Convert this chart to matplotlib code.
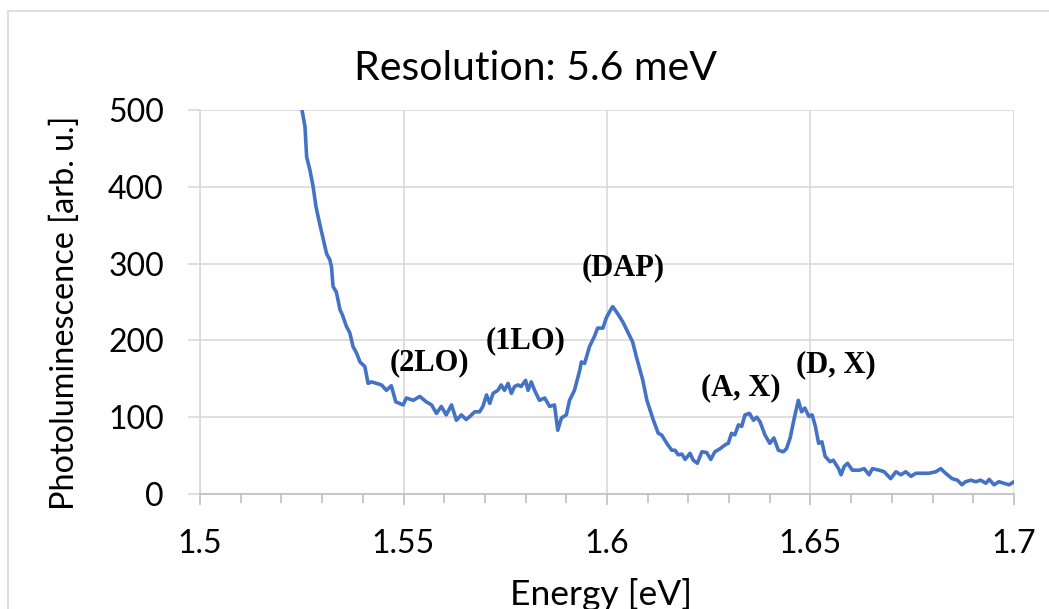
import matplotlib
matplotlib.use("Agg")
import matplotlib.pyplot as plt
from matplotlib.patches import Rectangle
from matplotlib.ticker import MultipleLocator, FuncFormatter

# photoluminescence spectrum
energy = [
    1.5240, 1.5250, 1.5258, 1.5262, 1.5270, 1.5278, 1.5285, 1.5294, 1.5311, 1.5319,
    1.5323, 1.5327, 1.5335, 1.5344, 1.5350, 1.5360, 1.5368, 1.5376, 1.5385, 1.5393,
    1.5405, 1.5413, 1.5421, 1.5434, 1.5446, 1.5458, 1.5470, 1.5481, 1.5499, 1.5507,
    1.5524, 1.5540, 1.5556, 1.5569, 1.5581, 1.5593, 1.5605, 1.5618, 1.5630, 1.5642,
    1.5654, 1.5663, 1.5675, 1.5687, 1.5695, 1.5704, 1.5712, 1.5720, 1.5732, 1.5740,
    1.5748, 1.5757, 1.5765, 1.5773, 1.5781, 1.5789, 1.5800, 1.5806, 1.5814, 1.5822,
    1.5834, 1.5847, 1.5859, 1.5871, 1.5879, 1.5888, 1.5900, 1.5908, 1.5920, 1.5933,
    1.5937, 1.5945, 1.5957, 1.5969, 1.5977, 1.5990, 1.5998, 1.6006, 1.6014, 1.6026,
    1.6039, 1.6051, 1.6063, 1.6072, 1.6088, 1.6098, 1.6114, 1.6126, 1.6134, 1.6147,
    1.6159, 1.6167, 1.6175, 1.6184, 1.6192, 1.6204, 1.6212, 1.6222, 1.6233, 1.6245,
    1.6255, 1.6265, 1.6278, 1.6290, 1.6298, 1.6306, 1.6314, 1.6323, 1.6331, 1.6339,
    1.6350, 1.6360, 1.6368, 1.6376, 1.6388, 1.6400, 1.6410, 1.6421, 1.6433, 1.6441,
    1.6450, 1.6459, 1.6470, 1.6478, 1.6486, 1.6496, 1.6504, 1.6512, 1.6520, 1.6528,
    1.6536, 1.6548, 1.6556, 1.6569, 1.6575, 1.6583,
    1.6591, 1.6603, 1.6620, 1.6632, 1.6644, 1.6652, 1.6669, 1.6681, 1.6697, 1.6710,
    1.6722, 1.6734, 1.6747, 1.6759, 1.6775, 1.6791, 1.6808, 1.6820, 1.6832, 1.6848,
    1.6861, 1.6872, 1.6881, 1.6894, 1.6906, 1.6918, 1.6931, 1.6939, 1.6951, 1.6963,
    1.6975, 1.6988, 1.7000,
]
pl = [
    540, 502, 478, 439, 422, 400, 374, 352, 313, 305,
    296, 270, 263, 240, 233, 218, 210, 192, 183, 172,
    166, 144, 146, 144, 142, 135, 141, 120, 116, 125,
    122, 127, 120, 116, 105, 114, 103, 116, 96, 103,
    97, 101, 107, 107, 114, 129, 118, 131, 135, 142,
    135, 144, 131, 140, 142, 140, 148, 135, 146, 135,
    122, 125, 114, 116, 83, 99, 103, 122, 135, 161,
    172, 170, 192, 205, 216, 216, 229, 237, 244, 235,
    224, 211, 198, 179, 148, 122, 96, 79, 77, 66,
    57, 57, 51, 52, 45, 53, 44, 40, 55, 54,
    45, 55, 59, 64, 66, 79, 77, 90, 88, 103,
    105, 96, 100, 94, 77, 66, 73, 57, 55, 59,
    73, 96, 122, 107, 112, 101, 103, 88, 66, 68,
    49, 42, 44, 33, 25, 36,
    40, 31, 31, 33, 25, 33, 31, 29, 20, 29,
    25, 29, 23, 27, 27, 27, 29, 33, 27, 20,
    18, 12, 16, 18, 16, 18, 14, 19, 12, 16,
    14, 12, 16,
]

# peak labels and where they sit
peak_labels = ["(2LO)", "(1LO)", "(DAP)", "(A, X)", "(D, X)"]
peak_x = [1.5563, 1.5799, 1.6039, 1.6329, 1.6563]
peak_y = [171, 200, 294, 138, 168]

plt.rcParams["font.family"] = ["Lato", "DejaVu Sans"]

W, H = 1049, 609
fig = plt.figure(figsize=(W / 100, H / 100), dpi=100)
ax = fig.add_axes([200 / W, 115 / H, 814 / W, 384 / H])

# chart area frame (Excel style)
fig.patches.append(Rectangle((8 / W, -0.05), 1.2, 1.05 - 11 / H,
                             transform=fig.transFigure, fill=False,
                             edgecolor="#d9d9d9", linewidth=1.2))

ax.plot(energy, pl, color="#4472C4", linewidth=2.6, solid_joinstyle="round")

ax.set_xlim(1.5, 1.7)
ax.set_ylim(0, 500)
ax.xaxis.set_major_locator(MultipleLocator(0.05))
ax.xaxis.set_minor_locator(MultipleLocator(0.01))
ax.yaxis.set_major_locator(MultipleLocator(100))
ax.xaxis.set_major_formatter(FuncFormatter(lambda v, p: f"{v:g}"))

ax.grid(True, which="major", color="#d9d9d9", linewidth=1.2)
ax.set_axisbelow(True)
for side in ["top", "right"]:
    ax.spines[side].set_visible(False)
ax.spines["left"].set_color("#d9d9d9")
ax.spines["bottom"].set_color("#bfbfbf")
ax.spines["left"].set_linewidth(1.2)
ax.spines["bottom"].set_linewidth(1.2)

ax.tick_params(axis="y", length=9, width=1.2, color="#d9d9d9", pad=17,
               labelsize=23)
ax.tick_params(axis="x", which="major", length=8, width=1.2, color="#bfbfbf",
               pad=17, labelsize=23)
ax.tick_params(axis="x", which="minor", length=6.5, width=1.2, color="#bfbfbf")

ax.set_xlabel("Energy [eV]", fontsize=25.5, va="baseline")
ax.xaxis.set_label_coords(0.493, (494 - 605) / 384)
ax.set_ylabel("Photoluminescence [arb. u.]", fontsize=23.3)
ax.yaxis.set_label_coords((80 - 200) / 814, (494 - 313) / 384)

fig.text(535 / W, 1 - 80 / H, "Resolution: 5.6 meV", fontsize=29.5,
         ha="center", va="baseline")

for label, x, y in zip(peak_labels, peak_x, peak_y):
    ax.text(x, y, label, ha="center", va="center", fontsize=22,
            fontweight="bold", family="Liberation Serif")

fig.savefig("out.png", dpi=100)
